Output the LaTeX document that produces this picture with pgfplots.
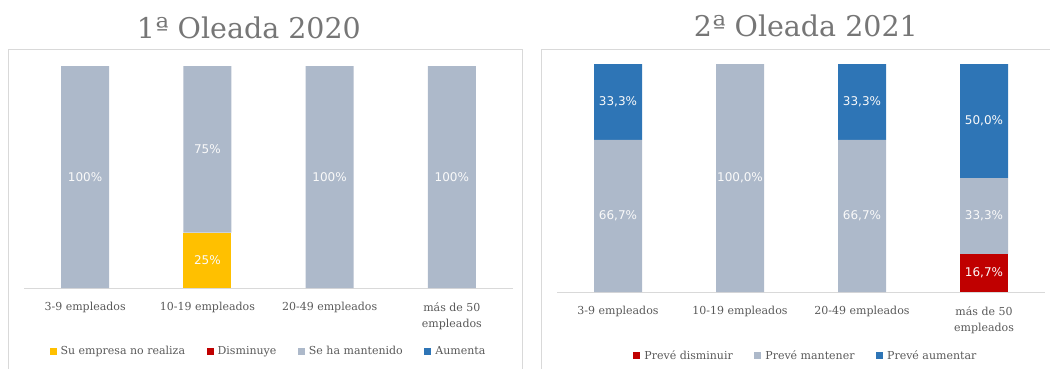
\documentclass[border=0pt]{standalone}
\usepackage{pgfplots}
\pgfplotsset{compat=1.18}
\usepackage{fontspec}
\setmainfont{DejaVu Serif}
\newfontfamily\labfont{DejaVu Sans}
\definecolor{cgray}{HTML}{ADB9CA}
\definecolor{cyel}{HTML}{FFC000}
\definecolor{cred}{HTML}{C00000}
\definecolor{cblue}{HTML}{2E75B6}
\definecolor{ctext}{HTML}{595959}
\definecolor{ctitle}{HTML}{767676}
\definecolor{cborder}{HTML}{D9D9D9}
\pgfplotsset{
  panel/.style={
    scale only axis,
    ybar stacked,
    bar width=48pt,
    ymin=0, ymax=100,
    xmin=-0.5, xmax=3.5,
    xtick={0,1,2,3},
    xticklabels={3-9 empleados,10-19 empleados,20-49 empleados,{más de 50\\empleados}},
    xticklabel style={font=\fontsize{11}{16.5}\selectfont, text=ctext, align=center, anchor=north, yshift=-11pt},
    hide y axis,
    axis x line*=bottom,
    x axis line style={draw=cborder, line width=1pt, -},
    xtick style={draw=none},
    nodes near coords,
    point meta=explicit symbolic,
    every node near coord/.append style={font=\labfont\fontsize{12}{12}\selectfont, text=white!96!gray, anchor=center},
    title style={font=\fontsize{28.5}{28.5}\selectfont, text=ctitle, anchor=base},
    legend style={draw=none, fill=none, font=\fontsize{11}{13}\selectfont, text=ctext,
      legend columns=-1, anchor=center,
      /tikz/every even column/.append style={column sep=19.5pt},
      /tikz/every odd column/.append style={column sep=2pt}},
    legend image code/.code={\fill[#1] (0pt,-3.5pt) rectangle (7pt,3.5pt);},
  }
}
\begin{document}
\begin{tikzpicture}
\useasboundingbox (0,0) rectangle (1050pt,-369pt);
\draw[cborder, line width=0.8pt] (8pt,-49pt) rectangle (522pt,-375pt);
\draw[cborder, line width=0.8pt] (541pt,-49pt) rectangle (1055pt,-375pt);

\begin{axis}[panel,
  at={(24pt,-288pt)}, anchor=south west,
  width=489pt, height=222pt,
  title={1ª Oleada 2020},
  title style={at={(0.46,1)}, yshift=22pt},
  legend style={at={(0.5,-0.284)}},
]
\addplot+[fill=cyel, draw=none] table[x=x, y=y, meta=lab] {
x y lab
0 0 {}
1 25 25\%
2 0 {}
3 0 {}
};
\addplot+[fill=cred, draw=none] table[x=x, y=y, meta=lab] {
x y lab
0 0 {}
1 0 {}
2 0 {}
3 0 {}
};
\addplot+[fill=cgray, draw=none] table[x=x, y=y, meta=lab] {
x y lab
0 100 100\%
1 75 75\%
2 100 100\%
3 100 100\%
};
\addplot+[fill=cblue, draw=none] table[x=x, y=y, meta=lab] {
x y lab
0 0 {}
1 0 {}
2 0 {}
3 0 {}
};
\legend{Su empresa no realiza, Disminuye, Se ha mantenido, Aumenta}
\end{axis}

\begin{axis}[panel,
  at={(557pt,-292pt)}, anchor=south west,
  width=488pt, height=228pt,
  title={2ª Oleada 2021},
  title style={at={(0.51,1)}, yshift=22pt},
  legend style={at={(0.51,-0.28)}},
]
\addplot+[fill=cred, draw=none] table[x=x, y=y, meta=lab] {
x y lab
0 0 {}
1 0 {}
2 0 {}
3 16.7 16,7\%
};
\addplot+[fill=cgray, draw=none] table[x=x, y=y, meta=lab] {
x y lab
0 66.7 66,7\%
1 100 100,0\%
2 66.7 66,7\%
3 33.3 33,3\%
};
\addplot+[fill=cblue, draw=none] table[x=x, y=y, meta=lab] {
x y lab
0 33.3 33,3\%
1 0 {}
2 33.3 33,3\%
3 50 50,0\%
};
\legend{Prevé disminuir, Prevé mantener, Prevé aumentar}
\end{axis}
\end{tikzpicture}
\end{document}
